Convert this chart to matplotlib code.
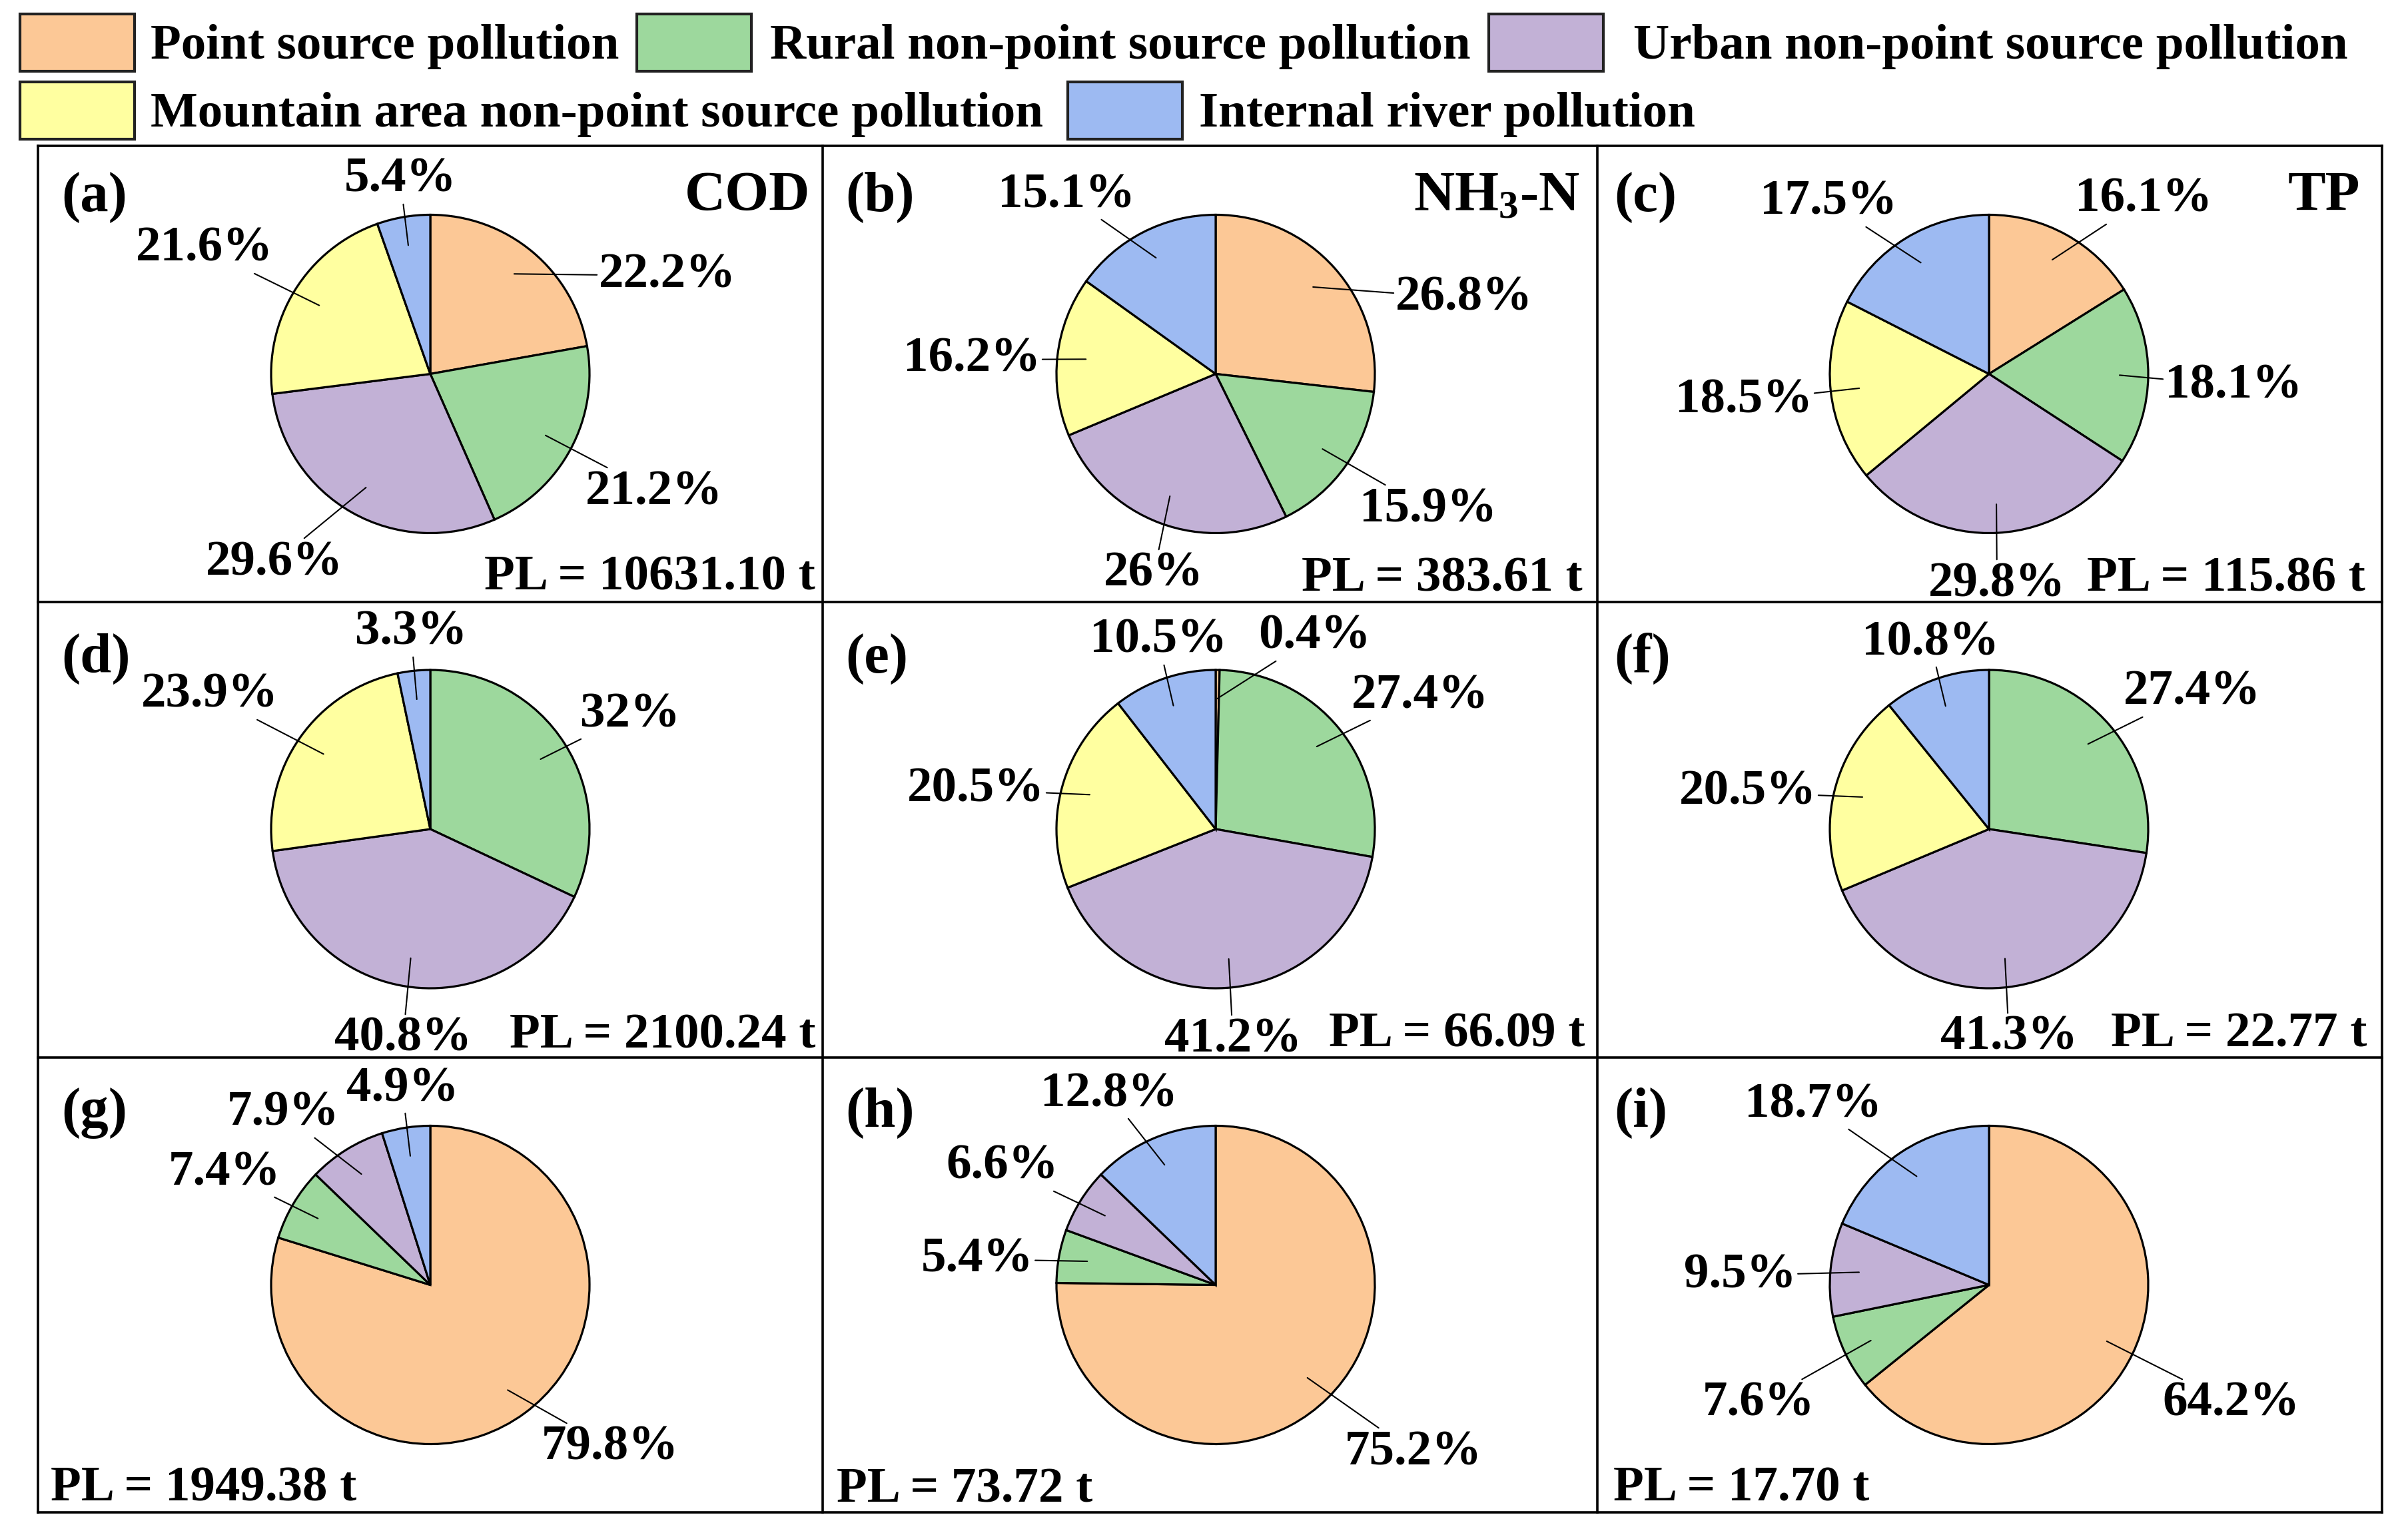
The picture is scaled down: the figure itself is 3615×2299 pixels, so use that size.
import numpy as np
import matplotlib
matplotlib.use("Agg")
import matplotlib.pyplot as plt
from matplotlib.patches import Rectangle

plt.rcParams['font.family'] = ['Liberation Serif', 'DejaVu Serif']
plt.rcParams['font.weight'] = 'bold'
plt.rcParams['mathtext.fontset'] = 'custom'
plt.rcParams['mathtext.rm'] = 'Liberation Serif:bold'
plt.rcParams['mathtext.it'] = 'Liberation Serif:bold'
plt.rcParams['mathtext.bf'] = 'Liberation Serif:bold'
plt.rcParams['mathtext.default'] = 'rm'

# ---- data -------------------------------------------------------------
sources = ["Point source pollution", "Rural non-point source pollution",
           "Urban non-point source pollution",
           "Mountain area non-point source pollution", "Internal river pollution"]
colors = ['#FCC896', '#9DD89D', '#C2B1D6', '#FFFFA0', '#9DBAF2']

panel_tags = ["(a)", "(b)", "(c)", "(d)", "(e)", "(f)", "(g)", "(h)", "(i)"]
pollutants = ["COD", "NH$_3$-N", "TP"]

# shares (%) in order: point, rural, urban, mountain, internal river
share_a = [22.2, 21.2, 29.6, 21.6, 5.4]
share_b = [26.8, 15.9, 26.0, 16.2, 15.1]
share_c = [16.1, 18.1, 29.8, 18.5, 17.5]
share_d = [0.0, 32.0, 40.8, 23.9, 3.3]
share_e = [0.4, 27.4, 41.2, 20.5, 10.5]
share_f = [0.0, 27.4, 41.3, 20.5, 10.8]
share_g = [79.8, 7.4, 7.9, 0.0, 4.9]
share_h = [75.2, 5.4, 6.6, 0.0, 12.8]
share_i = [64.2, 7.6, 9.5, 0.0, 18.7]
shares = [share_a, share_b, share_c, share_d, share_e,
          share_f, share_g, share_h, share_i]

pl_values = [10631.10, 383.61, 115.86, 2100.24, 66.09, 22.77,
             1949.38, 73.72, 17.70]

# ---- layout (figure pixels, y downward) -------------------------------
W, H = 3615, 2299
col_edges = [57, 1235, 2398, 3576]
row_edges = [219, 903.5, 1587.5, 2271]
pie_cx = [646, 1825, 2986]
pie_cy = [561.5, 1245, 1929.5]
R = 239

# label (x centre, baseline) for every non-zero wedge, in wedge order
label_pos = [
    [(1002, 432), (982, 757), (412, 863), (307, 392), (601, 288)],
    [(2198, 466), (2144, 783), (1732, 880), (1459, 558), (1601, 311)],
    [(3218, 318), (3353, 597), (2998, 895), (2618, 620), (2745, 322)],
    [(946, 1091), (605, 1578), (315, 1062), (617, 968)],
    [(1973, 974), (2132, 1063), (1851, 1579), (1465, 1204), (1739, 980)],
    [(3291, 1058), (3016, 1576), (2624, 1208), (2898, 983)],
    [(916, 2192), (337, 1779), (425, 1690), (604, 1653)],
    [(2122, 2199), (1467, 1909), (1505, 1770), (1665, 1661)],
    [(3349, 2126), (2640, 2126), (2612, 1933), (2722, 1677)],
]
pl_pos = [(1224, 886, 'right'), (2376, 887, 'right'), (3551, 887, 'right'),
          (1224, 1574, 'right'), (2379, 1572, 'right'), (3553, 1572, 'right'),
          (76, 2254, 'left'), (1256, 2255, 'left'), (2422, 2254, 'left')]
tag_x = [92, 1269, 2423]
tag_base = [317, 1010, 1692]
title_x = [1216, 2372, 3543]

# legend boxes: (x_left, y_top) and text start x, per entry
leg_box = [(30, 21), (956, 21), (2235, 21), (30, 123), (1603, 123)]
leg_text_x = [226, 1156, 2452, 226, 1800]
leg_base = [88, 88, 88, 190, 190]
box_w, box_h = 172, 86

LABEL_FS = 54
TAG_FS = 61

fig = plt.figure(figsize=(W / 100, H / 100), dpi=100)
ax = fig.add_axes([0, 0, 1, 1])

for k in range(9):
    r, c = divmod(k, 3)
    vals = [v for v in shares[k] if v > 0]
    cols = [colors[j] for j, v in enumerate(shares[k]) if v > 0]
    wedges, _ = ax.pie(vals, colors=cols, startangle=-90, counterclock=True,
                       radius=R, center=(pie_cx[c], pie_cy[r]),
                       wedgeprops=dict(edgecolor='black', linewidth=2.3))
    for w, v, (tx, ty) in zip(wedges, vals, label_pos[k]):
        mid = np.deg2rad((w.theta1 + w.theta2) / 2)
        inner = (pie_cx[c] + 0.82 * R * np.cos(mid),
                 pie_cy[r] + 0.82 * R * np.sin(mid))
        ax.annotate(f"{v:g}%", xy=inner, xytext=(tx, ty), ha='center',
                    va='baseline', fontsize=LABEL_FS, fontweight='bold',
                    arrowprops=dict(arrowstyle='-', color='black', lw=1.5,
                                    shrinkA=0, shrinkB=0))
    ax.text(tag_x[c], tag_base[r], panel_tags[k], fontsize=TAG_FS,
            fontweight='bold', ha='left', va='baseline')
    px, py, pha = pl_pos[k]
    ax.text(px, py, f"PL = {pl_values[k]:.2f} t", fontsize=LABEL_FS,
            fontweight='bold', ha=pha, va='baseline')

for c in range(3):
    ax.text(title_x[c], 316, pollutants[c], fontsize=TAG_FS,
            fontweight='bold', ha='right', va='baseline')

# panel grid
for x in col_edges:
    ax.plot([x, x], [row_edges[0], row_edges[-1]], color='black', lw=2.6,
            solid_capstyle='projecting')
for y in row_edges:
    ax.plot([col_edges[0], col_edges[-1]], [y, y], color='black', lw=2.6,
            solid_capstyle='projecting')

# legend
for j in range(5):
    bx, by = leg_box[j]
    ax.add_patch(Rectangle((bx, by), box_w, box_h, facecolor=colors[j],
                           edgecolor='#222222', linewidth=3))
    ax.text(leg_text_x[j], leg_base[j], sources[j], fontsize=LABEL_FS,
            fontweight='bold', ha='left', va='baseline')

ax.set_xlim(0, W)
ax.set_ylim(H, 0)
ax.set_aspect('auto')
ax.axis('off')

fig.savefig("out.png", dpi=100, facecolor='white')
